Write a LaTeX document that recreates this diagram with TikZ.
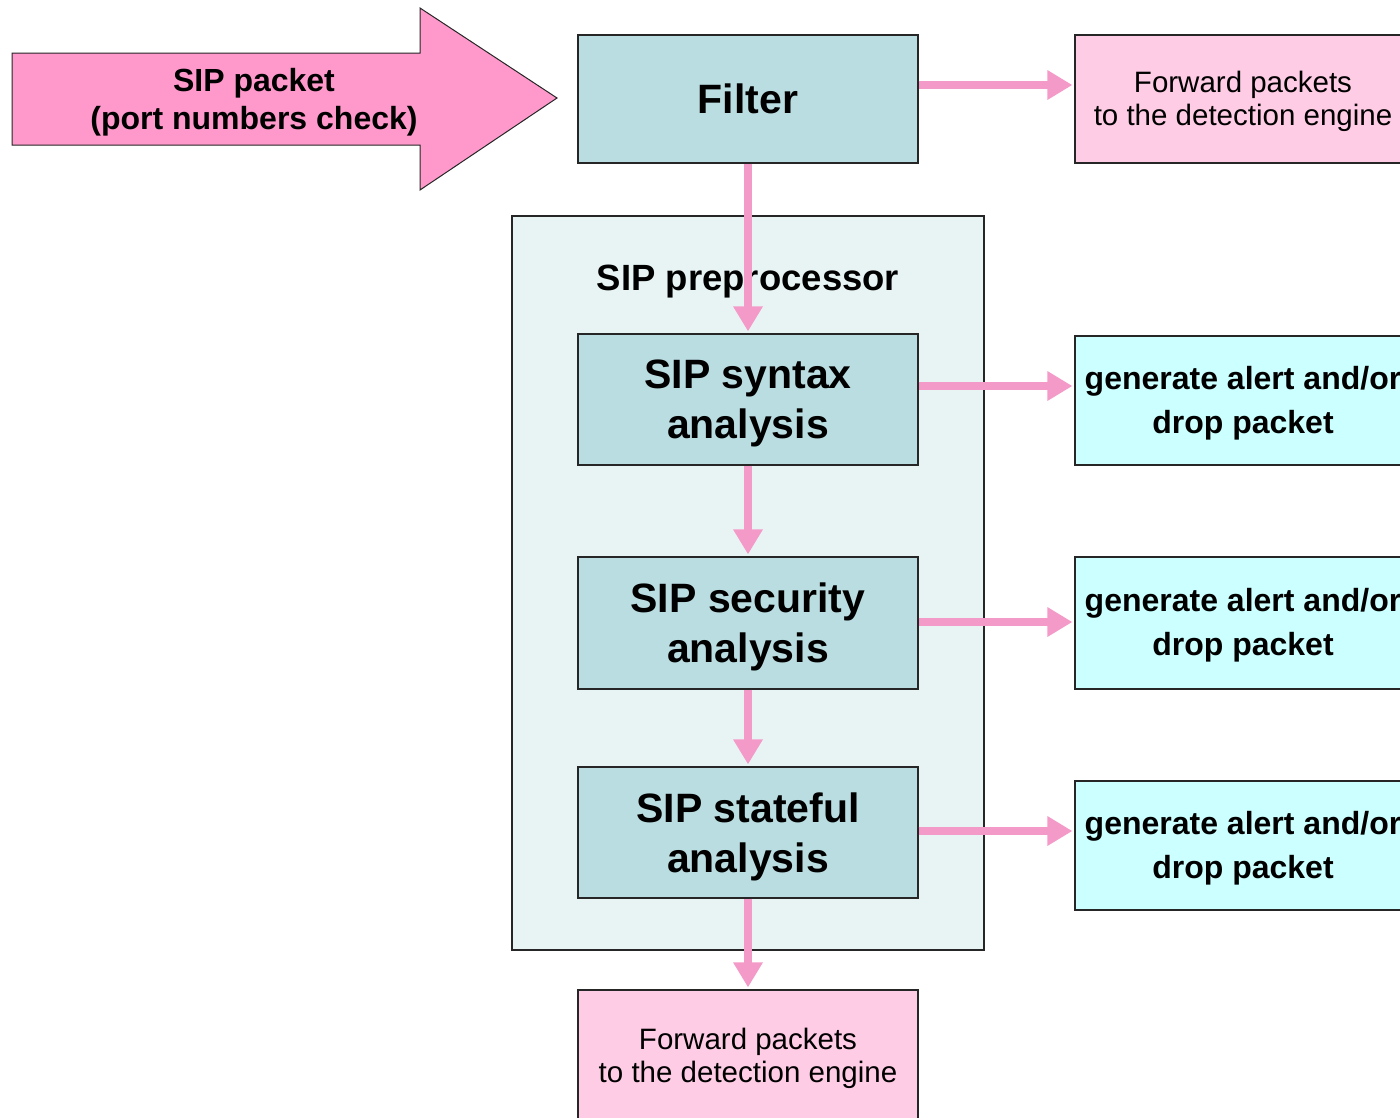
\documentclass[tikz,border=0pt]{standalone}
\usepackage{fontspec}
\setmainfont{Liberation Sans}
\usetikzlibrary{arrows.meta}
\definecolor{tealbox}{HTML}{BADDE1}
\definecolor{container}{HTML}{E8F4F4}
\definecolor{pinkbox}{HTML}{FFCCE6}
\definecolor{cyanbox}{HTML}{CCFFFF}
\definecolor{bigpink}{HTML}{FF99CC}
\definecolor{connpink}{HTML}{F49AC8}
\begin{document}
\begin{tikzpicture}[x=1pt,y=-1pt,
  outline/.style={draw=black!85,line width=1.2pt},
  stage/.style={outline,fill=tealbox,minimum width=340pt,inner sep=0pt,align=center,
    font=\bfseries\fontsize{41}{50}\selectfont},
  fwdbox/.style={outline,fill=pinkbox,minimum width=340pt,minimum height=128pt,inner sep=0pt,align=center,
    text depth=2pt,font=\fontsize{29.5}{33}\selectfont},
  alertbox/.style={outline,fill=cyanbox,minimum width=336pt,minimum height=129pt,inner sep=0pt,align=center,
    text depth=2pt,font=\bfseries\fontsize{32}{44}\selectfont},
  conn/.style={draw=connpink,line width=8pt,-{Triangle[length=25pt,width=28pt]},shorten >=2pt}
]
\useasboundingbox[fill=white] (0,0) rectangle (1400,1117);

% container
\node[outline,fill=container,minimum width=472pt,minimum height=734pt,inner sep=0pt] (pre) at (748,583) {};
\node[font=\bfseries\fontsize{36.5}{40}\selectfont] (prelabel) at (748,282) {SIP preprocessor};

% big input arrow
\draw[outline,fill=bigpink,line width=1pt] (12,53) -- (420,53) -- (420,8) -- (557,98) -- (420,190) -- (420,145) -- (12,145) -- cycle;
\node[align=center,font=\bfseries\fontsize{32}{38}\selectfont] (in) at (254,102) {SIP packet\\(port numbers check)};

% main boxes
\node[stage,minimum height=128pt] (filter) at (748,99) {Filter};
\node[stage,minimum height=131pt,text depth=-7pt] (syn) at (748,399.5) {SIP syntax\\analysis};
\node[stage,minimum height=132pt,text depth=-7pt] (sec) at (748,623) {SIP security\\analysis};
\node[stage,minimum height=131pt,text depth=-7pt] (sta) at (748,832.5) {SIP stateful\\analysis};
\node[fwdbox,minimum height=132pt] (fwd2) at (748,1056) {Forward packets\\to the detection engine};

% right boxes
\node[fwdbox,minimum width=336pt] (fwd1) at (1243,99) {Forward packets\\to the detection engine};
\node[alertbox] (al1) at (1243,400.5) {generate alert and/or\\drop packet};
\node[alertbox,minimum height=132pt] (al2) at (1243,623) {generate alert and/or\\drop packet};
\node[alertbox] (al3) at (1243,845.5) {generate alert and/or\\drop packet};

% connectors
\draw[conn] ([yshift=14pt]filter.east) -- ([yshift=14pt]filter.east -| fwd1.west);
\draw[conn] (filter.south) -- (syn.north);
\draw[conn] (syn.south) -- (sec.north);
\draw[conn] (sec.south) -- (sta.north);
\draw[conn] (sta.south) -- (fwd2.north);
\draw[conn] ([yshift=13.5pt]syn.east) -- ([yshift=13.5pt]syn.east -| al1.west);
\draw[conn] ([yshift=1pt]sec.east) -- ([yshift=1pt]sec.east -| al2.west);
\draw[conn] ([yshift=1.5pt]sta.east) -- ([yshift=1.5pt]sta.east -| al3.west);
\end{tikzpicture}
\end{document}
